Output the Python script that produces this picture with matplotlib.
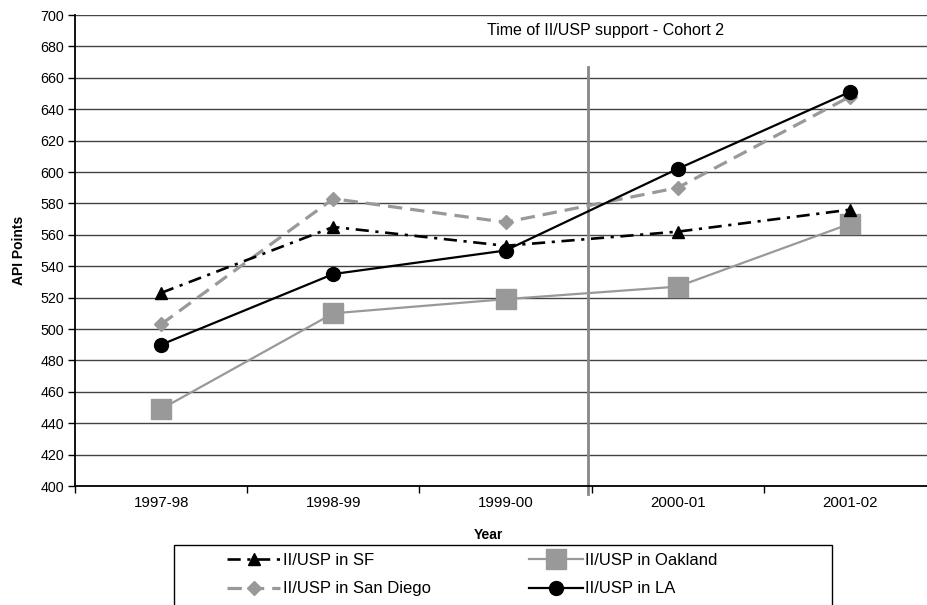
import matplotlib.pyplot as plt
from matplotlib.patches import Rectangle
import numpy as np

plt.rcParams['font.family'] = ['Liberation Sans', 'DejaVu Sans']

years = ["1997-98", "1998-99", "1999-00", "2000-01", "2001-02"]
sf = [523, 565, 553, 562, 576]
oakland = [449, 510, 519, 527, 567]
san_diego = [503, 583, 568, 590, 648]
la = [490, 535, 550, 602, 651]

W, H = 927, 605
fig = plt.figure(figsize=(W / 100, H / 100), dpi=100)
# plot area runs past the right edge, as in the original
ax = fig.add_axes([75 / W, 1 - 486 / H, (936 - 75) / W, (486 - 15) / H])

x = np.arange(len(years))

l_sf, = ax.plot(x, sf, color='black', lw=1.9, dashes=(5, 2.5, 1.2, 2.5),
                marker='^', ms=9, mfc='black', mec='black', zorder=4)
l_oak, = ax.plot(x, oakland, color='#999999', lw=1.6, ls='-',
                 marker='s', ms=14, mfc='#999999', mec='#999999', zorder=3)
l_sd, = ax.plot(x, san_diego, color='#999999', lw=2.3, dashes=(4.5, 2.5),
                marker='D', ms=7, mfc='#999999', mec='#999999', zorder=3)
l_la, = ax.plot(x, la, color='black', lw=1.6, ls='-',
                marker='o', ms=10, mfc='black', mec='black', zorder=5)

ax.set_xlim(-0.5, 4.5)
ax.set_ylim(400, 700)
ax.set_yticks(np.arange(400, 701, 20))
ax.set_xticks(x)
ax.set_xticklabels(years)
ax.set_xticks(np.arange(-0.5, 4.6, 1), minor=True)
ax.tick_params(axis='x', which='major', length=0, pad=7, labelsize=10.8)
ax.tick_params(axis='x', which='minor', length=5, direction='out', width=1)
ax.tick_params(axis='y', length=5, direction='out', width=1, labelsize=10.3, pad=3)

ax.grid(axis='y', color='#444444', lw=1)
ax.set_axisbelow(True)
for s in ['top', 'right']:
    ax.spines[s].set_visible(False)
for s in ['left', 'bottom']:
    ax.spines[s].set_color('black')
    ax.spines[s].set_linewidth(1.3)

# support start marker
ax.plot([2.48, 2.48], [395, 667], color='#888888', lw=2, clip_on=False, zorder=2)
ax.text(2.58, 690, "Time of II/USP support - Cohort 2", ha='center', va='center', fontsize=11.5)

ax.set_ylabel("API Points", fontsize=10, fontweight='bold', labelpad=10)
ax.set_xlabel("Year", fontsize=10, fontweight='bold')
ax.xaxis.set_label_coords((488 - 75) / (936 - 75), -(528 - 486) / (486 - 15))

# legend frame, cut off by the bottom edge like the original
fig.patches.append(Rectangle((174 / W, -0.05), (832 - 174) / W, 1 - 545 / H + 0.05,
                             transform=fig.transFigure, fill=False,
                             edgecolor='black', lw=1))
leg = fig.legend([l_sf, l_sd, l_oak, l_la],
                 ["II/USP in SF", "II/USP in San Diego", "II/USP in Oakland", "II/USP in LA"],
                 ncol=2, loc='upper left',
                 bbox_to_anchor=(227 / W, 1 - 553 / H),
                 fontsize=12, frameon=False, borderpad=0, borderaxespad=0,
                 handlelength=3.2, labelspacing=0.8, handletextpad=0.15,
                 columnspacing=5.9)

fig.savefig("out.png", dpi=100)
